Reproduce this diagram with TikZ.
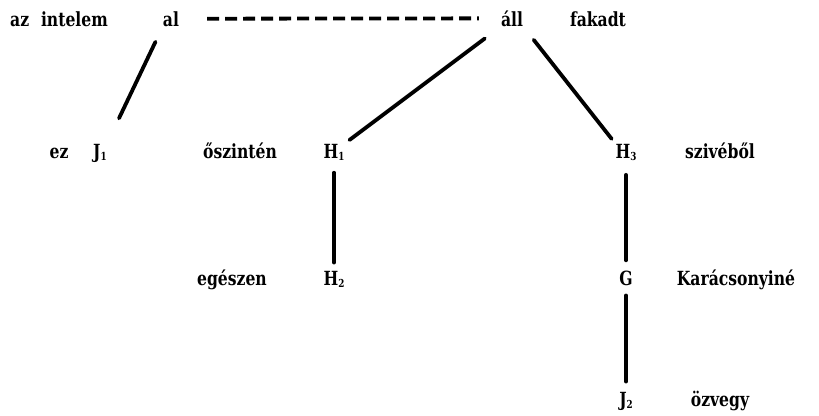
\documentclass[tikz,border=0pt]{standalone}
\usepackage{fontspec}
\setmainfont[FakeStretch=0.8]{DejaVu Serif}
\begin{document}
\begin{tikzpicture}[x=1pt,y=-1pt,
  lbl/.style={inner sep=0pt,anchor=base,font=\bfseries\fontsize{19.5}{21}\selectfont},
  edge/.style={line width=3.8pt,line cap=round},
  dashedge/.style={line width=3.8pt,dash pattern=on 12pt off 6pt}]
\useasboundingbox (0,0) rectangle (819,415);
\newcommand{\sbs}[1]{\raisebox{-2.5pt}{\fontsize{11}{11}\selectfont #1}}
% row 1
\node[lbl] (azint) at (59,26) {az\,\, intelem};
\node[lbl] (al) at (171,26) {al};
\node[lbl] (all) at (512,26) {áll};
\node[lbl] (fakadt) at (598,26) {fakadt};
% row 2
\node[lbl] (ez) at (59,158) {ez};
\node[lbl] (J1) at (100,158) {J\sbs{1}};
\node[lbl] (oszinten) at (240,158) {őszintén};
\node[lbl] (H1) at (334,158) {H\sbs{1}};
\node[lbl] (H3) at (626,158) {H\sbs{3}};
\node[lbl] (sziv) at (720,158) {szivéből};
% row 3
\node[lbl] (egeszen) at (232,285) {egészen};
\node[lbl] (H2) at (334,285) {H\sbs{2}};
\node[lbl] (G) at (626,285) {G};
\node[lbl] (karacs) at (736,285) {Karácsonyiné};
% row 4
\node[lbl] (J2) at (626,406) {J\sbs{2}};
\node[lbl] (ozvegy) at (720,406) {özvegy};
% connectors
\draw[dashedge,shorten <=28pt,shorten >=22pt] (al.east) -- (all.west);
\draw[edge,shorten <=17pt,shorten >=28pt] (al.south west) -- (J1.north east);
\draw[edge,shorten <=20pt,shorten >=6pt] (all.south west) -- (H1.north east);
\draw[edge,shorten <=17pt,shorten >=6pt] (all.south east) -- (H3.north west);
\draw[edge,shorten <=12pt,shorten >=8pt] (H1.south) -- (H2.north);
\draw[edge,shorten <=14pt,shorten >=10pt] (H3.south) -- (G.north);
\draw[edge,shorten <=10pt,shorten >=10pt] (G.south) -- (J2.north);
\end{tikzpicture}
\end{document}
